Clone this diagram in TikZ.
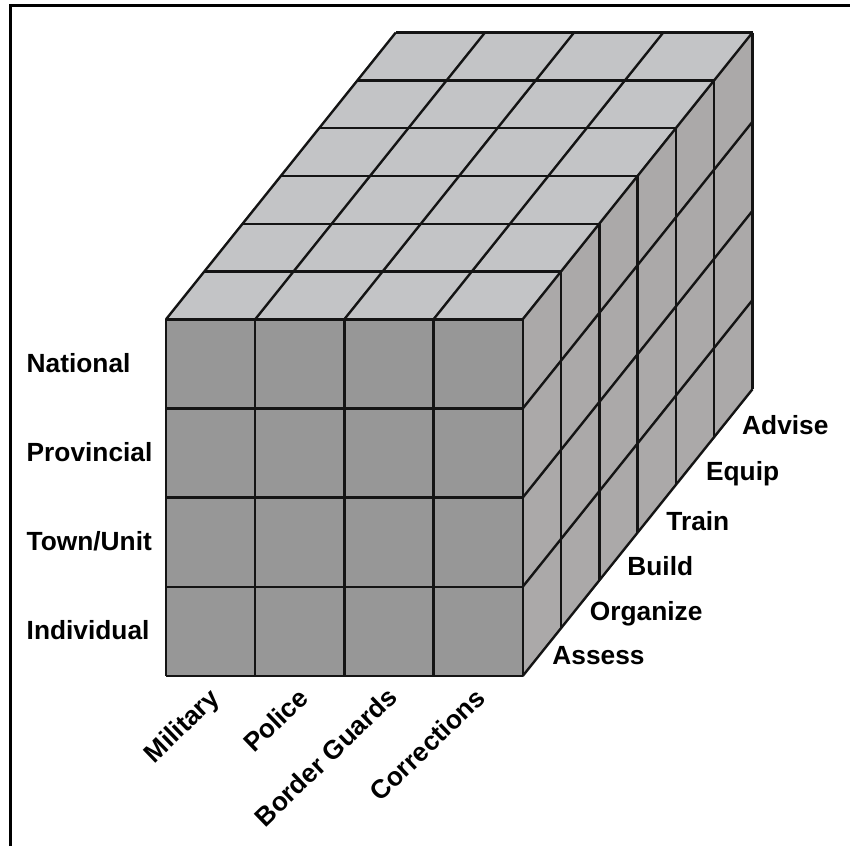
\documentclass[tikz,border=0pt]{standalone}
\usepackage{fontspec}
\setmainfont{Liberation Sans}
\usepackage{tikz}
\usepackage{xcolor}

\tikzset{
  lbl/.style={font=\fontsize{26.3}{30}\selectfont\bfseries, inner sep=0pt},
  gridline/.style={color={rgb, 255:red, 20; green, 20; blue, 20 }, line width=2.4, line join=round},
  frontface/.style={fill={rgb, 255:red, 151; green, 151; blue, 151 }},
  topface/.style={fill={rgb, 255:red, 195; green, 196; blue, 198 }},
  sideface/.style={fill={rgb, 255:red, 171; green, 169; blue, 169 }}
}

\begin{document}
\begin{tikzpicture}[x=1pt,y=1pt,yscale=-1,xscale=1]
\useasboundingbox (0,0) rectangle (850,846);

%Straight Lines [frame]
\draw [line width=2.6] (10.7,846) -- (10.7,5.7) -- (850,5.7) ;

%Shape: front face
\path [frontface] (166,319.3) -- (522.7,319.3) -- (522.7,676) -- (166,676) -- cycle ;
%Shape: top face
\path [topface] (166,319.3) -- (522.7,319.3) -- (752.5,32.5) -- (395.8,32.5) -- cycle ;
%Shape: side face
\path [sideface] (522.7,319.3) -- (752.5,32.5) -- (752.5,389.2) -- (522.7,676) -- cycle ;

%Straight Lines [front rows]
\draw [gridline] (166,319.3) -- (522.7,319.3)  (166,408.5) -- (522.7,408.5)  (166,497.6) -- (522.7,497.6)  (166,586.8) -- (522.7,586.8)  (166,676) -- (522.7,676) ;
%Straight Lines [front columns]
\draw [gridline] (166,319.3) -- (166,676)  (255.2,319.3) -- (255.2,676)  (344.3,319.3) -- (344.3,676)  (433.5,319.3) -- (433.5,676)  (522.7,319.3) -- (522.7,676) ;

%Straight Lines [top layers]
\draw [gridline] (204.3,271.5) -- (561,271.5)  (242.6,223.7) -- (599.3,223.7)  (280.9,175.9) -- (637.6,175.9)  (319.2,128.1) -- (675.9,128.1)  (357.5,80.3) -- (714.2,80.3)  (395.8,32.5) -- (752.5,32.5) ;
%Straight Lines [top diagonals]
\draw [gridline] (166,319.3) -- (395.8,32.5)  (255.2,319.3) -- (485,32.5)  (344.3,319.3) -- (574.1,32.5)  (433.5,319.3) -- (663.3,32.5)  (522.7,319.3) -- (752.5,32.5) ;

%Straight Lines [side layers]
\draw [gridline] (561,271.5) -- (561,628.2)  (599.3,223.7) -- (599.3,580.4)  (637.6,175.9) -- (637.6,532.6)  (675.9,128.1) -- (675.9,484.8)  (714.2,80.3) -- (714.2,437)  (752.5,32.5) -- (752.5,389.2) ;
%Straight Lines [side diagonals]
\draw [gridline] (522.7,408.5) -- (752.5,121.7)  (522.7,497.6) -- (752.5,210.8)  (522.7,586.8) -- (752.5,300)  (522.7,676) -- (752.5,389.2) ;

% Text Node
\draw (26.5,372.3) node (national) [lbl, anchor=base west] {National};
% Text Node
\draw (26.5,461.5) node (provincial) [lbl, anchor=base west] {Provincial};
% Text Node
\draw (26.5,550.6) node (townunit) [lbl, anchor=base west] {Town/Unit};
% Text Node
\draw (26.5,639.8) node (individual) [lbl, anchor=base west] {Individual};

% Text Node
\draw (221,700) node (military) [lbl, anchor=base east, rotate=44] {Military};
% Text Node
\draw (310,700) node (police) [lbl, anchor=base east, rotate=44] {Police};
% Text Node
\draw (399,699) node (borderguards) [lbl, anchor=base east, rotate=44] {Border Guards};
% Text Node
\draw (487,700) node (corrections) [lbl, anchor=base east, rotate=44] {Corrections};

% Text Node
\draw (552.2,664.3) node (assess) [lbl, anchor=base west] {Assess};
% Text Node
\draw (589.7,620.7) node (organize) [lbl, anchor=base west] {Organize};
% Text Node
\draw (627.2,575) node (build) [lbl, anchor=base west] {Build};
% Text Node
\draw (666.2,530) node (train) [lbl, anchor=base west] {Train};
% Text Node
\draw (705.9,480) node (equip) [lbl, anchor=base west] {Equip};
% Text Node
\draw (742,434) node (advise) [lbl, anchor=base west] {Advise};

\end{tikzpicture}
\end{document}
